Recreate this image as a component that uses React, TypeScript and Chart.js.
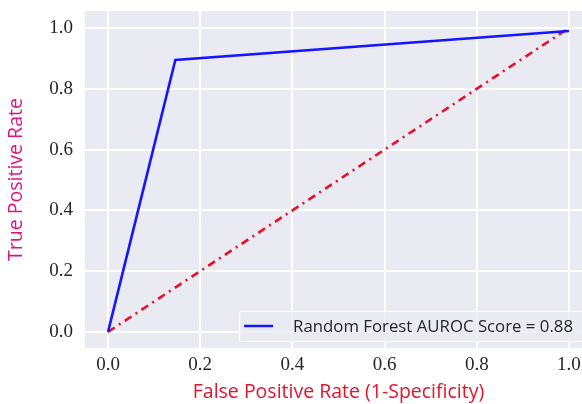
import React, { useEffect, useRef } from "react";
import { Chart, registerables } from "chart.js";

Chart.register(...registerables);

const rocFpr = [0, 0.146, 1.0];
const rocTpr = [0, 0.895, 0.99];
const chanceFpr = [0, 1];
const chanceTpr = [0, 1];
const tickValues = [0, 0.2, 0.4, 0.6, 0.8, 1.0];
const rocLabel = "Random Forest AUROC Score = 0.88";
const xTitle = "False Positive Rate (1-Specificity)";
const yTitle = "True Positive Rate";

const BG = "#eaeaf2";
const TICK_FONT = "'Liberation Serif', serif";
const LABEL_FONT = "'Open Sans', 'Noto Sans', sans-serif";

const bgPlugin = {
  id: "bgPlugin",
  beforeDraw(chart: any) {
    const { ctx, chartArea } = chart;
    ctx.save();
    ctx.fillStyle = BG;
    ctx.fillRect(chartArea.left, chartArea.top, chartArea.right - chartArea.left, chartArea.bottom - chartArea.top);
    ctx.restore();
  },
};

const legendPlugin = {
  id: "insideLegend",
  afterDraw(chart: any) {
    const { ctx, chartArea } = chart;
    const ds = chart.data.datasets[0];
    ctx.save();
    ctx.font = `16.8px ${LABEL_FONT}`;
    const w = ctx.measureText(ds.label).width;
    const boxRight = chartArea.right - 7;
    const boxBottom = chartArea.bottom - 7;
    const boxTop = boxBottom - 30;
    const textEnd = boxRight - 12;
    const textStart = textEnd - w;
    const lineEnd = textStart - 20;
    const lineStart = lineEnd - 29;
    const boxLeft = lineStart - 5;
    ctx.fillStyle = "rgba(234,234,242,0.8)";
    ctx.strokeStyle = "rgba(255,255,255,0.9)";
    ctx.lineWidth = 1.2;
    ctx.beginPath();
    (ctx as any).roundRect(boxLeft + 0.5, boxTop + 0.5, boxRight - boxLeft, boxBottom - boxTop, 2);
    ctx.fill();
    ctx.stroke();
    const midY = (boxTop + boxBottom) / 2;
    ctx.strokeStyle = ds.borderColor;
    ctx.lineWidth = 2.5;
    ctx.beginPath();
    ctx.moveTo(lineStart, midY);
    ctx.lineTo(lineEnd, midY);
    ctx.stroke();
    ctx.fillStyle = "#262626";
    ctx.textBaseline = "middle";
    ctx.textAlign = "left";
    ctx.fillText(ds.label, textStart, midY + 1);
    ctx.restore();
  },
};

export default function App() {
  const ref = useRef<HTMLCanvasElement | null>(null);
  useEffect(() => {
    if (!ref.current) return;
    const chart = new Chart(ref.current, {
      type: "line",
      data: {
        datasets: [
          {
            label: rocLabel,
            data: rocFpr.map((x, i) => ({ x, y: rocTpr[i] })),
            borderColor: "#1515ff",
            borderWidth: 2.6,
            pointRadius: 0,
            fill: false,
            tension: 0,
          },
          {
            label: "chance",
            data: chanceFpr.map((x, i) => ({ x, y: chanceTpr[i] })),
            borderColor: "#ec0c24",
            borderWidth: 2.6,
            borderDash: [8, 5, 2, 5],
            pointRadius: 0,
            fill: false,
            tension: 0,
          },
        ],
      },
      options: {
        animation: false,
        responsive: false,
        maintainAspectRatio: false,
        layout: { padding: { left: 0, right: 2, top: 11, bottom: 0 } },
        plugins: { legend: { display: false }, tooltip: { enabled: false } },
        scales: {
          x: {
            type: "linear",
            min: -0.05,
            max: 1.05,
            afterBuildTicks(scale: any) {
              scale.ticks = tickValues.map((v) => ({ value: v }));
            },
            afterFit(scale: any) {
              scale.height = 56;
              scale.paddingLeft = 0;
              scale.paddingRight = 0;
            },
            ticks: {
              padding: 6,
              color: "#262626",
              font: { family: TICK_FONT, size: 19 },
              callback: (v: any) => Number(v).toFixed(1),
            },
            grid: { color: "#ffffff", lineWidth: 2, drawTicks: false },
            border: { display: false },
            title: {
              display: true,
              text: xTitle,
              color: "#e8122c",
              font: { family: LABEL_FONT, size: 19.5 },
              padding: 0,
            },
          },
          y: {
            type: "linear",
            min: -0.053,
            max: 1.056,
            afterBuildTicks(scale: any) {
              scale.ticks = tickValues.map((v) => ({ value: v }));
            },
            afterFit(scale: any) {
              scale.width = 85;
              scale.paddingTop = 0;
              scale.paddingBottom = 0;
            },
            ticks: {
              padding: 12,
              color: "#262626",
              font: { family: TICK_FONT, size: 19 },
              callback: (v: any) => Number(v).toFixed(1),
            },
            grid: { color: "#ffffff", lineWidth: 2, drawTicks: false },
            border: { display: false },
            title: {
              display: true,
              text: yTitle,
              color: "#e5117f",
              font: { family: LABEL_FONT, size: 19.5 },
              padding: 5,
            },
          },
        },
      },
      plugins: [bgPlugin, legendPlugin],
    });
    return () => chart.destroy();
  }, []);
  return (
    <div style={{ position: "fixed", left: 0, top: 0, width: 582, height: 404, overflow: "hidden", background: "#fff" }}>
      <canvas ref={ref} width={594} height={404} style={{ width: 594, height: 404, display: "block" }} />
    </div>
  );
}
